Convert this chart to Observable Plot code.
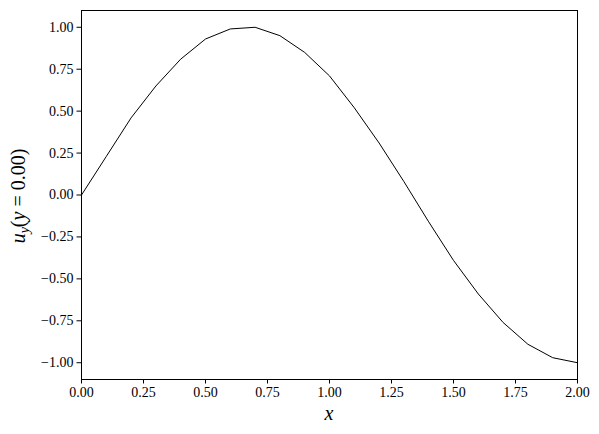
<!DOCTYPE html>
<html>
<head>
<meta charset="utf-8">
<script src="https://cdn.jsdelivr.net/npm/d3@7"></script>
<script src="https://cdn.jsdelivr.net/npm/@observablehq/plot@0.6"></script>
<style>
  html, body { margin: 0; padding: 0; background: #fff; }
  #chart svg { display: block; }
  #chart svg, #chart svg text { font-family: 'Liberation Serif', 'DejaVu Serif', serif !important; }
</style>
</head>
<body>
<div id="chart"></div>
<script>
const xs = [0.0, 0.1, 0.2, 0.3, 0.4, 0.5, 0.6, 0.7, 0.8, 0.9, 1.0, 1.1, 1.2, 1.3, 1.4, 1.5, 1.6, 1.7, 1.8, 1.9, 2.0];
const uy = [0.00, 0.23, 0.46, 0.65, 0.81, 0.93, 0.99, 1.00, 0.95, 0.85, 0.71, 0.52, 0.31, 0.08, -0.16, -0.39, -0.59, -0.76, -0.89, -0.97, -1.00];
const xTicks = [0, 0.25, 0.5, 0.75, 1.0, 1.25, 1.5, 1.75, 2.0];
const yTicks = [-1.0, -0.75, -0.5, -0.25, 0, 0.25, 0.5, 0.75, 1.0];

const data = xs.map((x, i) => ({x, y: uy[i]}));
const fmt = d3.format(".2f");
const fam = "'Liberation Serif', 'DejaVu Serif', serif";

const chart = Plot.plot({
  width: 599,
  height: 434,
  marginLeft: 81,
  marginRight: 22,
  marginTop: 10,
  marginBottom: 55,
  style: {fontFamily: fam, fontSize: "14px", color: "#000", background: "#fff"},
  x: {domain: [0, 2], label: null},
  y: {domain: [-1.1, 1.1], label: null},
  marks: [
    Plot.axisX({ticks: xTicks, tickFormat: fmt, tickSize: 4.5, tickPadding: 3.5, label: null, fontFamily: fam, fontSize: 14}),
    Plot.axisY({ticks: yTicks, tickFormat: fmt, tickSize: 4.5, tickPadding: 3.5, label: null, fontFamily: fam, fontSize: 14}),
    Plot.line(data, {x: "x", y: "y", stroke: "#000", strokeWidth: 1}),
    Plot.frame({stroke: "#000", strokeWidth: 1})
  ]
});
document.getElementById("chart").appendChild(chart);

// axis titles with math styling
const svg = d3.select(chart);
svg.append("text")
  .attr("x", 81 + (577 - 81) / 2)
  .attr("y", 420)
  .attr("text-anchor", "middle")
  .attr("font-family", fam)
  .attr("font-size", 20)
  .attr("font-style", "italic")
  .text("x");
const yl = svg.append("text")
  .attr("transform", "translate(25,196) rotate(-90)")
  .attr("text-anchor", "middle")
  .attr("font-family", fam)
  .attr("font-size", 20);
yl.append("tspan").attr("font-style", "italic").text("u");
yl.append("tspan").attr("font-style", "italic").attr("font-size", 14).attr("dy", 4).text("y");
yl.append("tspan").attr("dy", -4).text("(");
yl.append("tspan").attr("font-style", "italic").text("y");
yl.append("tspan").text(" = 0.00)");
</script>
</body>
</html>
